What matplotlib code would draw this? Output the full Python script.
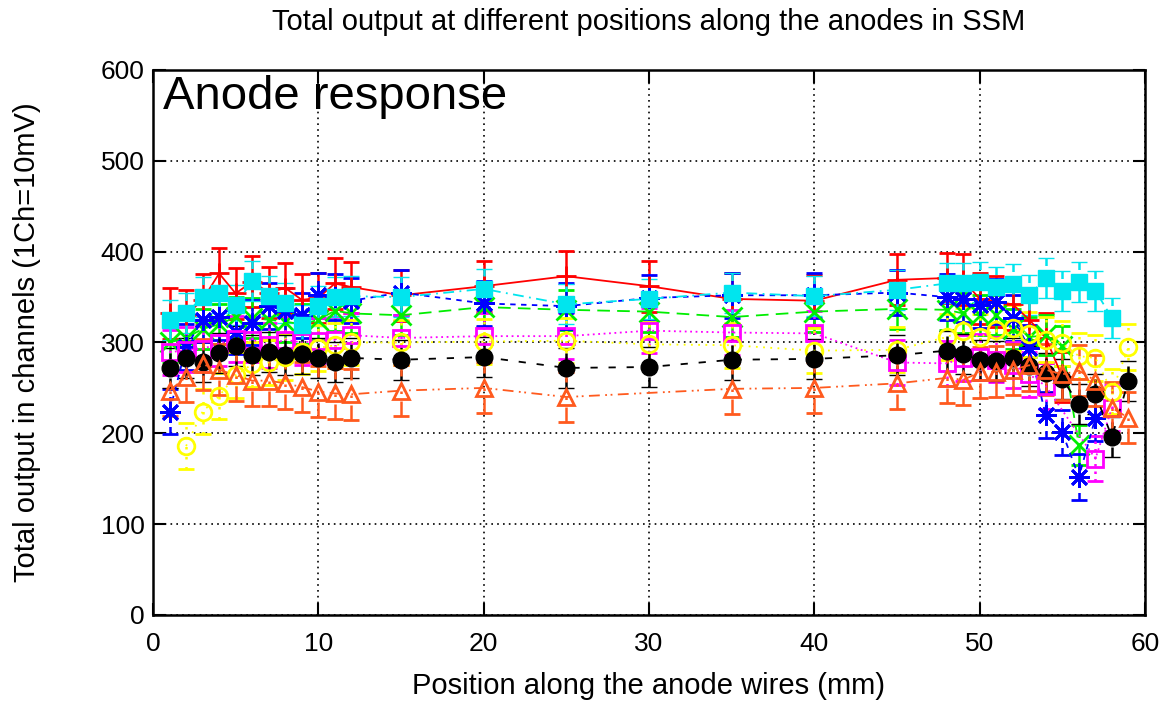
import numpy as np
import matplotlib
matplotlib.use("Agg")
import matplotlib.pyplot as plt

plt.rcParams['font.family'] = ['Liberation Sans', 'DejaVu Sans']

# positions along the anode wires (mm)
pos = [1, 2, 3, 4, 5, 6, 7, 8, 9, 10, 11, 12,
       15, 20, 25, 30, 35, 40, 45,
       48, 49, 50, 51, 52, 53, 54, 55, 56, 57, 58, 59]

nan = np.nan
red = [332, 330, 347, 376, 354, 367, 355, 360, 347, 349, 365, 361,
       352, 362, 373, 362, 348, 346, 369,
       371, 369, 348, 345, 342, 325, 305, 262, nan, nan, nan, nan]
green = [300, 305, 315, 320, 328, 327, 325, 323, 320, 325, 335, 332,
         330, 339, 336, 334, 328, 334, 337,
         336, 332, 330, 330, 315, 306, 308, 296, 187, nan, nan, nan]
blue = [224, 295, 325, 328, 312, 322, 340, 335, 330, 352, 350, 346,
        355, 343, 340, 349, 352, 352, 355,
        350, 348, 341, 345, 327, 294, 220, 201, 152, 217, nan, nan]
magenta = [289, 292, 293, 299, 304, 303, 297, 303, 300, 302, 303, 308,
           305, 307, 307, 313, 311, 310, 278,
           277, 283, 284, 281, 275, 265, 252, nan, nan, 172, 228, nan]
cyan = [325, 332, 350, 354, 341, 368, 351, 343, 319, 340, 350, 351,
        350, 359, 342, 348, 355, 351, 358,
        365, 365, 367, 361, 364, 352, 371, 357, 367, 357, 327, nan]
yellow = [nan, 186, 224, 241, 264, 276, 278, 284, 290, 294, 297, 300,
          300, 301, 302, 298, 297, 291, 292,
          306, 313, 306, 314, 316, 309, 303, 299, 285, 283, 246, 295]
black = [272, 283, 278, 288, 296, 286, 290, 286, 287, 283, 279, 283,
         281, 284, 272, 273, 281, 282, 286,
         291, 287, 281, 280, 283, 274, 266, 260, 232, 243, 196, 258]
orange = [247, 262, 276, 270, 264, 258, 258, 255, 251, 246, 244, 243,
          247, 250, 240, nan, 249, 250, 255,
          261, 259, 267, 268, 270, 275, 270, 265, 269, 258, 228, 217]

# (values, error, colour, marker, filled, dash pattern)
series = [
    (red, 28, '#ff0000', '+', False, 'solid'),
    (green, 22, '#00ee00', 'x', False, (0, (7, 4))),
    (blue, 25, '#0000ff', (8, 2, 0), False, (0, (3, 3))),
    (magenta, 25, '#ff00ff', 's', False, (0, (1, 2))),
    (cyan, 22, '#00e5ee', 's', True, (0, (6, 3, 1, 3))),
    (yellow, 25, '#ffff00', 'o', False, (0, (1, 3))),
    (black, 22, '#000000', 'o', True, (0, (4, 6))),
    (orange, 28, '#ff5a1e', '^', False, (0, (6, 3, 1, 2, 1, 3))),
]

fig = plt.figure(figsize=(11.68, 7.02), dpi=100)
ax = fig.add_axes([153 / 1168, 1 - 615 / 702, 992 / 1168, 545 / 702])

x_all = np.array(pos, dtype=float)
for vals, err, col, mk, filled, ls in series:
    y = np.array(vals, dtype=float)
    ok = ~np.isnan(y)
    x, y = x_all[ok], y[ok]
    ms = 15 if mk in ('+', 'x', (8, 2, 0)) else 12
    line, caps, bars = ax.errorbar(
        x, y, yerr=err, color=col, lw=1.3, ls=ls,
        marker=mk, ms=ms, mew=2 if not filled else 1,
        mfc=col if filled else 'none', mec=col,
        ecolor=col, elinewidth=1.8, capsize=6, capthick=1.8)
    for b in bars:
        b.set_linestyle(ls if ls != 'solid' else '-')

ax.set_xlim(0, 60)
ax.set_ylim(0, 600)
ax.set_xticks(range(0, 61, 10))
ax.set_yticks(range(0, 601, 100))
ax.grid(True, color='black', linestyle=(0, (1, 2.5)), linewidth=1.2)
ax.tick_params(direction='in', length=9, width=1.5, top=True, right=True,
               labelsize=19)
ax.tick_params(axis='x', pad=12)
ax.tick_params(axis='y', pad=6)
for sp in ax.spines.values():
    sp.set_linewidth(1.8)

ax.text(0.01, 0.99, 'Anode response', transform=ax.transAxes,
        fontsize=34, va='top', ha='left')

fig.text(649 / 1168, 1 - 22 / 702,
         'Total output at different positions along the anodes in SSM',
         ha='center', va='center', fontsize=21)
fig.text(27 / 1168, 1 - 342 / 702, 'Total output in channels (1Ch=10mV)',
         ha='center', va='center', rotation=90, fontsize=21)
fig.text(649 / 1168, 1 - 686 / 702, 'Position along the anode wires (mm)',
         ha='center', va='center', fontsize=21)

fig.savefig('out.png', dpi=100)
